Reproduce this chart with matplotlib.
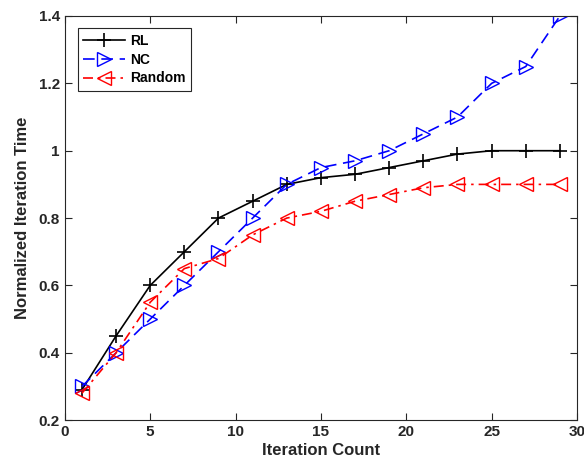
import matplotlib
matplotlib.use('Agg')
import matplotlib.pyplot as plt

plt.rcParams['font.family'] = ['Liberation Sans', 'DejaVu Sans']
plt.rcParams['font.weight'] = 'bold'

iters = [1, 3, 5, 7, 9, 11, 13, 15, 17, 19, 21, 23, 25, 27, 29]
rl = [0.29, 0.45, 0.60, 0.70, 0.80, 0.85, 0.90, 0.92, 0.93, 0.95, 0.97, 0.99, 1.00, 1.00, 1.00]
nc = [0.30, 0.40, 0.50, 0.60, 0.70, 0.80, 0.90, 0.95, 0.97, 1.00, 1.05, 1.10, 1.20, 1.25, 1.40]
rand = [0.28, 0.40, 0.55, 0.65, 0.68, 0.75, 0.80, 0.82, 0.85, 0.87, 0.89, 0.90, 0.90, 0.90, 0.90]

fig = plt.figure(figsize=(5.84, 4.70), dpi=100)
ax = fig.add_axes([0.111, 0.106, 0.877, 0.860])

ax.plot(iters, rl, 'k-', marker='+', markersize=10, markeredgewidth=1.2, linewidth=1.2, label='RL')
ax.plot(iters, nc, color='blue', linestyle=(0, (7, 4)), marker='>', markersize=9.5,
        markerfacecolor='none', markeredgewidth=1.0, linewidth=1.2, label='NC')
ax.plot(iters, rand, color='red', linestyle=(0, (6, 3, 1.5, 3)), marker='<', markersize=9.5,
        markerfacecolor='none', markeredgewidth=1.0, linewidth=1.2, label='Random')

ax.set_xlim(0, 30)
ax.set_ylim(0.2, 1.4)
ax.set_xticks([0, 5, 10, 15, 20, 25, 30])
ax.set_yticks([0.2, 0.4, 0.6, 0.8, 1.0, 1.2, 1.4])
ax.set_yticklabels(['0.2', '0.4', '0.6', '0.8', '1', '1.2', '1.4'])
ax.tick_params(direction='in', top=True, right=True, labelsize=11, colors='0.15', length=5, width=0.8)
for lab in ax.get_xticklabels() + ax.get_yticklabels():
    lab.set_fontweight('bold')
    lab.set_color('0.15')
for sp in ax.spines.values():
    sp.set_color('0.15')
    sp.set_linewidth(0.8)

ax.set_xlabel('Iteration Count', fontsize=12, fontweight='bold', color='0.15', labelpad=3)
ax.set_ylabel('Normalized Iteration Time', fontsize=12, fontweight='bold', color='0.15', labelpad=6)

leg = ax.legend(loc='upper left', bbox_to_anchor=(0.025, 0.97), fontsize=10, fancybox=False,
                edgecolor='0.15', framealpha=1, handlelength=3.0, borderpad=0.4,
                labelspacing=0.35, handletextpad=0.4, borderaxespad=0)
leg.get_frame().set_linewidth(0.8)

fig.savefig('out.png', dpi=100)
